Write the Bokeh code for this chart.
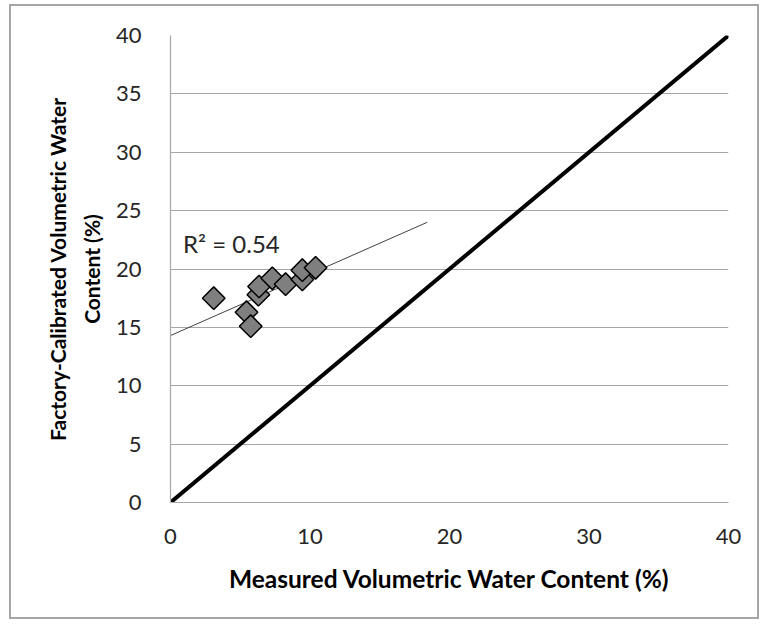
from bokeh.plotting import figure
from bokeh.models import Label, Range1d, FixedTicker
from bokeh.embed import file_html
from bokeh.resources import INLINE
import numpy as np

# Data
measured = [3.1, 5.45, 5.75, 6.3, 6.35, 7.3, 8.25, 9.45, 9.45, 10.4]
factory = [17.5, 16.3, 15.1, 17.8, 18.5, 19.2, 18.7, 19.1, 19.9, 20.1]
trend_x = [0.0, 18.4]
trend_y = [14.3, 24.0]
one_to_one = [0.0, 40.0]
ticks = [0, 5, 10, 15, 20, 25, 30, 35, 40]
x_ticks = [0, 10, 20, 30, 40]
r2_text = "R² = 0.54"

FONT = "Lato"

p = figure(width=750, height=615, output_backend="svg", toolbar_location=None,
           x_range=Range1d(0, 40), y_range=Range1d(0, 40),
           min_border_left=159, min_border_right=33, min_border_top=29, min_border_bottom=119)
p.margin = (4, 0, 0, 9)
p.styles = {"border": "2px solid #a6a6a6"}
p.outline_line_color = None
p.background_fill_color = "white"
p.border_fill_color = "white"

p.xgrid.grid_line_color = None
p.ygrid.grid_line_color = "#a6a6a6"
p.ygrid.grid_line_width = 1.2

p.xaxis.ticker = FixedTicker(ticks=x_ticks)
p.yaxis.ticker = FixedTicker(ticks=ticks)
for ax in (p.xaxis[0], p.yaxis[0]):
    ax.axis_line_color = "#a6a6a6"
    ax.axis_line_width = 1.2
    ax.major_tick_line_color = None
    ax.minor_tick_line_color = None
    ax.major_label_text_font = FONT
    ax.major_label_text_font_size = "22px"
    ax.major_label_text_color = "#262626"
    ax.axis_label_text_font = FONT
    ax.axis_label_text_font_style = "bold"
    ax.axis_label_text_color = "black"

p.xaxis.axis_label = "Measured Volumetric Water Content (%)"
p.xaxis.axis_label_text_font_size = "24.5px"
p.yaxis.axis_label = "Factory-Calibrated Volumetric Water\nContent (%)"
p.yaxis.axis_label_text_font_size = "21px"
p.yaxis.axis_label_text_line_height = 1.35
p.xaxis.major_label_standoff = 20
p.yaxis.major_label_standoff = 23
p.xaxis.axis_label_standoff = 17
p.yaxis.axis_label_standoff = 9

# 1:1 line
p.line(one_to_one, one_to_one, line_color="black", line_width=4)
# trendline
p.line(trend_x, trend_y, line_color="#404040", line_width=1)
# points
p.scatter(measured, factory, marker="square", angle=np.pi / 4, size=16,
          fill_color="#7f7f7f", line_color="black", line_width=1.5)

p.add_layout(Label(x=0.9, y=22.2, text=r2_text, text_font=FONT, text_font_size="24px",
                   text_color="#262626", text_baseline="middle"))

open("out.html", "w").write(file_html(p, INLINE))
